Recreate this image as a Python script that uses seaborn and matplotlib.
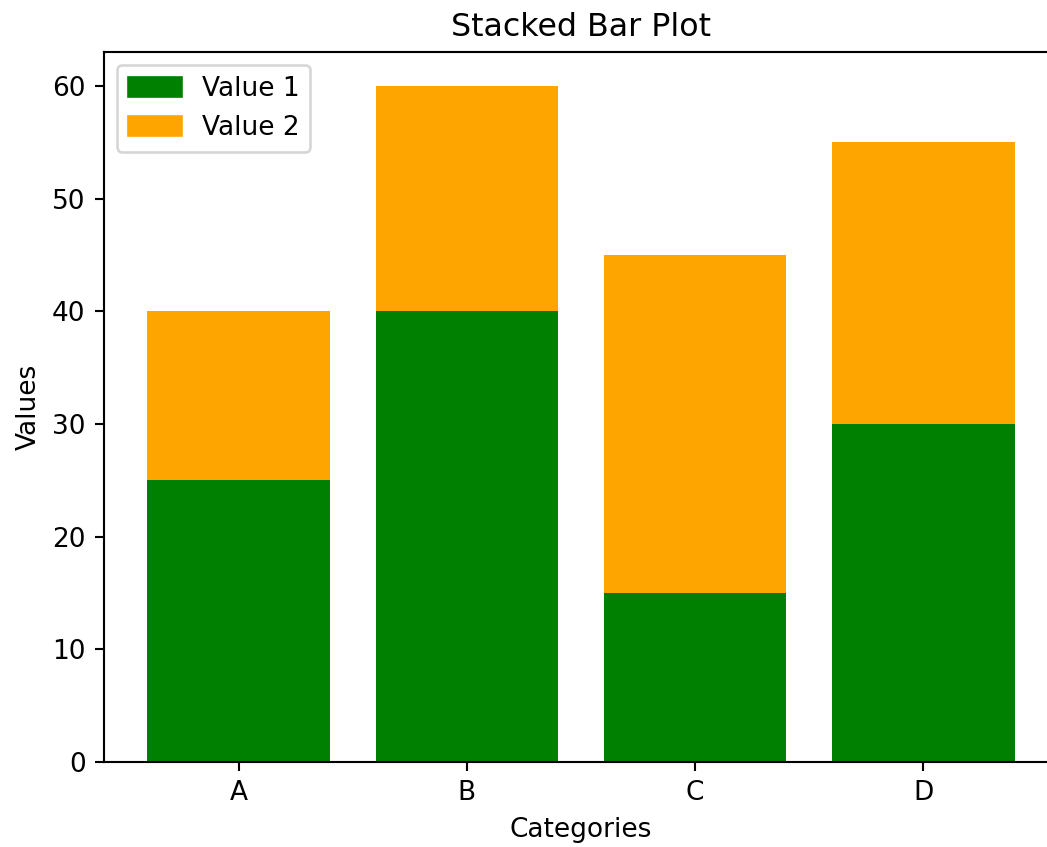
import matplotlib
matplotlib.use("Agg")
import matplotlib.pyplot as plt
import matplotlib.patches as mpatches
import seaborn as sns
import pandas as pd

# Dane do wykresu
categories = ['A', 'B', 'C', 'D']
value1 = [25, 40, 15, 30]
value2 = [15, 20, 30, 25]

df = pd.DataFrame({'Category': categories, 'Value 1': value1, 'Value 2': value2})
df['Total'] = df['Value 1'] + df['Value 2']

fig = plt.figure(figsize=(1047 / 190, 847 / 190), dpi=190)
ax = fig.add_axes([104 / 1047, 85 / 847, 954 / 1047, 710 / 847])

# najpierw suma (pomarańczowy), potem dolna część (zielony)
sns.barplot(data=df, x='Category', y='Total', color='orange', saturation=1,
            linewidth=0, width=0.8, ax=ax)
sns.barplot(data=df, x='Category', y='Value 1', color='green', saturation=1,
            linewidth=0, width=0.8, ax=ax)

ax.set_xlim(-0.59, 3.59)
ax.set_ylim(0, 63)

handles = [mpatches.Patch(color='green', label='Value 1'),
           mpatches.Patch(color='orange', label='Value 2')]
ax.legend(handles=handles, loc='upper left')

ax.set_title('Stacked Bar Plot')
ax.set_xlabel('Categories')
ax.set_ylabel('Values')

fig.savefig('out.png', dpi=190)
